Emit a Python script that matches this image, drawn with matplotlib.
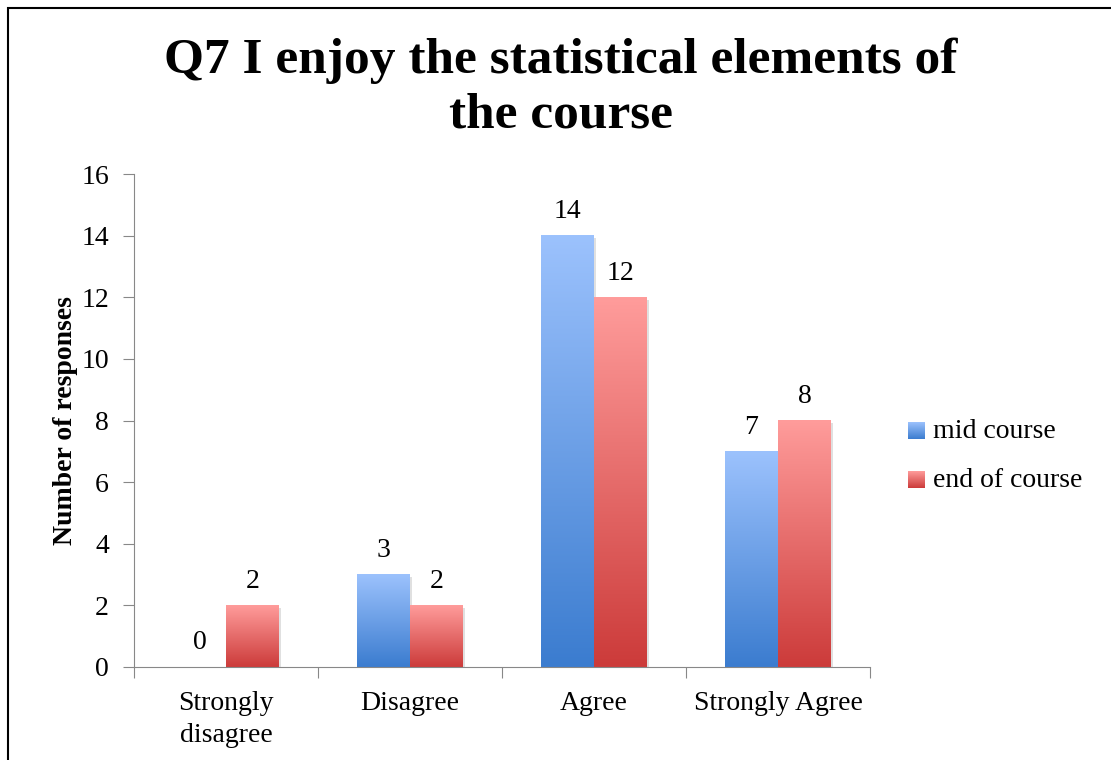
import numpy as np
import matplotlib
matplotlib.use("Agg")
import matplotlib.pyplot as plt
from matplotlib.patches import Rectangle
from matplotlib.colors import LinearSegmentedColormap
from matplotlib.legend_handler import HandlerBase

categories = ["Strongly\ndisagree", "Disagree", "Agree", "Strongly Agree"]
mid_course = [0, 3, 14, 7]
end_course = [2, 2, 12, 8]
series_names = ["mid course", "end of course"]
title = "Q7 I enjoy the statistical elements of\nthe course"
ylabel = "Number of responses"

plt.rcParams['font.family'] = ['Liberation Serif', 'DejaVu Serif']

fig = plt.figure(figsize=(11.11, 7.6), dpi=100)
ax = fig.add_axes([134/1111, 1-667/760, (870-134)/1111, (667-174)/760])

blue_cmap = LinearSegmentedColormap.from_list("b", ["#3B7CCF", "#9CC2FD"])
red_cmap = LinearSegmentedColormap.from_list("r", ["#CC3B3A", "#FF9C9B"])
grad = np.linspace(0, 1, 256).reshape(-1, 1)

FS = 20
w = 0.288
x = np.arange(len(categories))
for vals, cmap, off in [(mid_course, blue_cmap, -w/2), (end_course, red_cmap, w/2)]:
    for xi, v in zip(x, vals):
        x0 = xi + off - w/2
        if v > 0:
            sh = Rectangle((x0 + 0.012, -0.08), w, v, facecolor="#000000", alpha=0.12,
                           edgecolor="none", zorder=1)
            ax.add_patch(sh)
            ax.imshow(grad, cmap=cmap, origin="lower", aspect="auto",
                      extent=[x0, x0 + w, 0, v], zorder=2, interpolation="bilinear")
        ax.text(xi + off, v + 0.38, str(v), ha="center", va="bottom", fontsize=FS)

ax.set_xlim(-0.5, 3.5)
ax.set_ylim(0, 16)
ax.set_yticks(range(0, 17, 2))
ax.tick_params(axis="y", labelsize=FS, length=8, color="#888888", pad=10)
ax.set_xticks([-0.5, 0.5, 1.5, 2.5, 3.5])
ax.set_xticklabels([])
ax.tick_params(axis="x", length=8, color="#888888")
for xi, c in zip(x, categories):
    ax.text(xi, -0.78, c, ha="center", va="top", fontsize=FS, linespacing=1.35)
for s in ["top", "right"]:
    ax.spines[s].set_visible(False)
for s in ["left", "bottom"]:
    ax.spines[s].set_color("#888888")
ax.set_ylabel(ylabel, fontsize=20, fontweight="bold", labelpad=2)

fig.text(561/1111, 1-88/760, title, ha="center", va="center", fontsize=37,
         fontweight="bold", linespacing=1.25)

# legend with gradient patches
class GradHandler(HandlerBase):
    def __init__(self, cmap):
        super().__init__()
        self.cmap = cmap
    def create_artists(self, legend, orig, xd, yd, width, height, fontsize, trans):
        from matplotlib.image import BboxImage
        from matplotlib.transforms import Bbox, TransformedBbox
        s = min(width, height)
        bb = Bbox.from_bounds(xd + width - s, yd, s, s)
        tbb = TransformedBbox(bb, trans)
        img = BboxImage(tbb, cmap=self.cmap, interpolation="bilinear")
        img.set_data(np.flipud(grad))
        return [img]

h1 = Rectangle((0, 0), 1, 1, facecolor="#6A9FE6")
h2 = Rectangle((0, 0), 1, 1, facecolor="#E66A6A")
leg = fig.legend([h1, h2], series_names, loc="center left",
                 bbox_to_anchor=(883/1111, 1-456/760), frameon=False, fontsize=FS,
                 handler_map={h1: GradHandler(blue_cmap), h2: GradHandler(red_cmap)},
                 handlelength=0.6, handleheight=0.6, handletextpad=0.3, labelspacing=0.85)

# outer border
fig.add_artist(Rectangle((8/1111, -0.05), 1.2, 1 - 8/760 + 0.05, transform=fig.transFigure,
                         fill=False, edgecolor="black", linewidth=1.5))

fig.savefig("out.png", dpi=100)
